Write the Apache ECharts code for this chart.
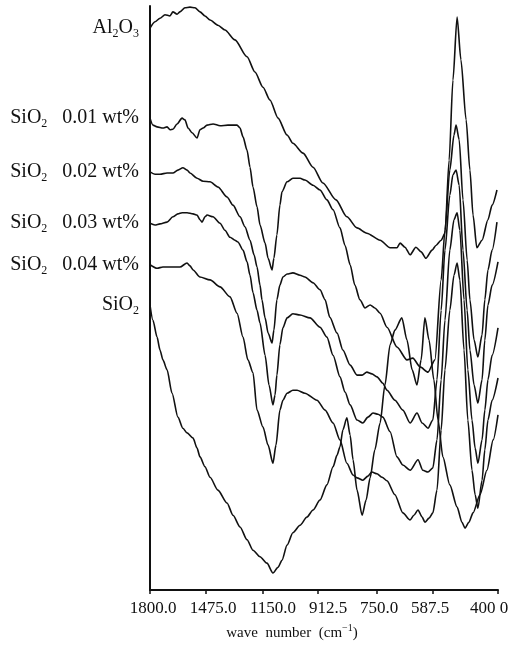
<!DOCTYPE html>
<html>
<head>
<meta charset="utf-8">
<title>IR spectra</title>
<script src="https://cdn.jsdelivr.net/npm/echarts@6/dist/echarts.min.js"></script>
<style>
  html, body { margin: 0; padding: 0; background: #fff; }
  #chart { width: 526px; height: 654px; }
</style>
</head>
<body>
<div id="chart"></div>
<script>
// wave number axis, as printed (recorder paper is not linear in cm-1)
const tickLabels = ['1800.0', '1475.0', '1150.0', '912.5', '750.0', '587.5', '400 0']
const tickWave = [1800, 1475, 1150, 912.5, 750, 587.5, 400]

// spectra: [wave number (cm-1), transmittance (a.u.)]
const al2o3 = [
  [1800, 96.2], [1771, 97.3], [1742, 97.9], [1713, 98.5], [1684, 98.3], [1667, 99.0], [1643, 98.6],
  [1626, 99.0], [1597, 99.7], [1568, 99.8], [1539, 99.7], [1510, 99.0], [1481, 98.3], [1452, 97.6],
  [1407, 96.7], [1367, 95.9], [1310, 94.2], [1241, 91.3], [1196, 88.7], [1150, 86.1], [1120, 83.9],
  [1085, 80.8], [1046, 77.9], [1021, 76.5], [977, 74.8], [934, 72.4], [899, 69.7], [863, 66.8],
  [833, 63.9], [805, 62.0], [778, 61.1], [741, 59.9], [712, 58.6], [692, 58.6], [683, 59.4],
  [669, 58.7], [654, 57.4], [637, 58.7], [622, 57.9], [608, 56.8], [590, 58.2], [579, 59.0],
  [564, 59.9], [553, 61.1], [541, 73.6], [530, 87.3], [518, 98.1], [507, 90.8], [492, 80.5],
  [481, 71.9], [472, 64.2], [461, 58.6], [446, 59.9], [429, 63.4], [417, 65.9], [403, 68.5]
]
const sio2_001 = [
  [1800, 80.8], [1783, 79.6], [1759, 79.3], [1725, 79.1], [1701, 79.3], [1684, 78.8], [1667, 78.9],
  [1643, 79.8], [1614, 80.8], [1597, 80.5], [1579, 79.1], [1556, 78.3], [1527, 77.4], [1510, 78.8],
  [1492, 79.1], [1469, 79.6], [1435, 79.8], [1395, 79.5], [1350, 79.6], [1298, 79.6], [1281, 79.1],
  [1264, 77.6], [1241, 75.3], [1224, 72.4], [1207, 69.0], [1184, 65.6], [1167, 62.5], [1141, 59.4],
  [1128, 56.8], [1111, 54.8], [1103, 56.8], [1090, 60.8], [1077, 65.9], [1068, 68.2], [1046, 69.9],
  [1021, 70.5], [990, 70.5], [969, 70.2], [934, 69.3], [907, 68.5], [888, 66.8], [871, 65.1],
  [852, 62.0], [838, 59.0], [824, 55.7], [811, 52.2], [797, 49.7], [783, 48.3], [769, 48.8],
  [756, 48.3], [741, 47.4], [721, 45.0], [692, 41.6], [663, 39.4], [646, 39.7], [625, 38.2],
  [602, 37.3], [582, 39.4], [564, 53.1], [553, 61.6], [539, 71.9], [527, 77.9], [521, 79.6],
  [512, 77.1], [501, 66.8], [489, 56.5], [481, 49.7], [469, 42.8], [458, 39.9], [446, 43.7],
  [438, 49.7], [429, 54.8], [417, 58.2], [403, 63.0]
]
const sio2_002 = [
  [1800, 71.6], [1771, 71.2], [1742, 71.2], [1701, 71.4], [1667, 71.4], [1638, 71.9], [1609, 72.3],
  [1585, 71.9], [1568, 71.4], [1527, 70.5], [1492, 70.0], [1452, 69.9], [1407, 69.0], [1355, 67.3],
  [1321, 65.9], [1281, 63.9], [1253, 62.2], [1224, 59.9], [1201, 57.4], [1184, 55.3], [1167, 52.2],
  [1156, 49.7], [1141, 46.6], [1128, 44.0], [1111, 42.3], [1103, 44.5], [1090, 49.7], [1077, 52.2],
  [1064, 53.6], [1046, 54.1], [1021, 54.3], [990, 53.9], [969, 53.6], [934, 52.6], [907, 51.4],
  [893, 49.7], [880, 46.7], [860, 44.0], [844, 41.1], [824, 38.5], [805, 36.8], [791, 36.8],
  [778, 37.3], [764, 37.0], [750, 36.5], [733, 35.4], [721, 34.2], [698, 32.5], [675, 30.8],
  [654, 28.6], [634, 30.3], [619, 28.6], [602, 27.7], [588, 29.1], [576, 36.0], [564, 47.9],
  [553, 58.2], [539, 67.6], [530, 71.1], [521, 71.9], [512, 69.3], [501, 58.2], [489, 47.9],
  [481, 41.1], [469, 35.1], [458, 32.0], [446, 36.0], [438, 42.8], [429, 48.8], [417, 52.2],
  [400, 56.2]
]
const sio2_003 = [
  [1800, 62.8], [1771, 62.5], [1742, 62.7], [1701, 63.0], [1667, 63.9], [1638, 64.4], [1614, 64.6],
  [1585, 64.6], [1550, 64.4], [1527, 64.2], [1510, 63.4], [1498, 63.0], [1481, 63.9], [1469, 64.2],
  [1435, 63.9], [1395, 62.8], [1367, 61.6], [1338, 60.4], [1310, 59.9], [1293, 59.6], [1264, 58.2],
  [1241, 56.2], [1224, 53.9], [1207, 50.9], [1184, 47.9], [1167, 45.7], [1141, 40.2], [1124, 35.1],
  [1107, 31.7], [1098, 33.4], [1090, 36.8], [1077, 42.0], [1064, 44.9], [1046, 46.6], [1021, 47.3],
  [990, 47.1], [947, 46.6], [907, 45.0], [888, 43.3], [871, 40.2], [852, 36.5], [838, 33.9],
  [824, 31.7], [805, 29.1], [789, 28.6], [775, 29.6], [761, 30.3], [747, 30.1], [733, 29.6],
  [712, 27.1], [692, 22.8], [675, 21.4], [654, 20.5], [631, 22.3], [617, 20.5], [602, 20.2],
  [588, 20.9], [576, 25.7], [564, 36.0], [553, 46.2], [539, 58.2], [527, 63.4], [518, 64.6],
  [510, 61.6], [498, 49.7], [487, 37.7], [475, 29.1], [466, 24.3], [458, 21.7], [446, 25.7],
  [438, 30.8], [429, 36.0], [417, 40.2], [400, 44.9]
]
const sio2_004 = [
  [1800, 55.7], [1759, 55.1], [1725, 55.3], [1684, 55.3], [1626, 55.3], [1585, 56.0], [1568, 55.5],
  [1550, 54.8], [1510, 53.6], [1452, 53.1], [1395, 51.9], [1338, 50.2], [1298, 47.4], [1264, 43.3],
  [1236, 39.4], [1207, 37.2], [1184, 30.8], [1150, 27.9], [1128, 24.8], [1107, 21.7], [1094, 24.8],
  [1077, 30.8], [1064, 32.5], [1046, 33.7], [1021, 34.2], [1003, 34.2], [969, 33.7], [917, 32.5],
  [893, 30.8], [871, 28.6], [852, 25.7], [833, 21.7], [816, 19.7], [805, 19.2], [789, 18.8],
  [775, 19.5], [764, 20.2], [750, 19.9], [735, 19.3], [721, 18.7], [698, 16.3], [675, 13.2],
  [654, 12.0], [643, 12.8], [631, 13.7], [619, 12.5], [611, 11.6], [599, 12.3], [588, 13.2],
  [576, 17.1], [564, 27.4], [553, 37.7], [539, 47.9], [527, 53.9], [518, 56.0], [510, 53.1],
  [498, 41.1], [487, 29.1], [475, 20.5], [466, 16.3], [458, 14.0], [446, 18.8], [438, 24.0],
  [429, 29.1], [417, 32.5], [400, 36.3]
]
const sio2 = [
  [1800, 48.8], [1783, 46.2], [1759, 43.3], [1742, 41.1], [1725, 39.4], [1701, 37.7], [1672, 33.7],
  [1638, 29.6], [1609, 27.7], [1585, 26.9], [1550, 26.0], [1527, 24.3], [1510, 22.8], [1481, 21.1],
  [1452, 19.3], [1407, 17.1], [1355, 14.9], [1321, 12.8], [1281, 10.8], [1241, 8.6], [1207, 6.8],
  [1167, 5.7], [1133, 4.6], [1107, 2.9], [1085, 3.9], [1068, 5.1], [1046, 7.7], [1021, 9.8],
  [990, 11.1], [960, 12.5], [934, 13.7], [907, 15.4], [888, 18.0], [871, 21.1], [860, 23.1],
  [852, 24.5], [844, 27.4], [833, 29.5], [824, 26.5], [816, 22.3], [805, 17.1], [791, 12.8],
  [780, 15.4], [769, 19.2], [756, 24.0], [741, 28.6], [727, 35.1], [712, 42.0], [698, 44.5],
  [678, 46.6], [663, 42.8], [648, 37.7], [634, 35.1], [622, 39.4], [611, 46.6], [599, 42.8],
  [585, 36.0], [573, 29.1], [559, 22.8], [539, 18.0], [518, 14.2], [504, 11.6], [495, 10.6],
  [484, 11.6], [472, 13.2], [452, 16.3], [432, 20.5], [414, 25.7], [400, 30.0]
]

// where each printed tick sits along the paper (axis units, 0 = 1800.0)
const paperPos = [0, 56, 113, 168, 227, 283, 348]
// the numbers under the axis were typeset as one line, so they drift off the ticks a little
const labelPos = [3, 63, 123, 178, 229, 280, 339]

function toPaper(w) {
  for (let i = 0; i < tickWave.length - 1; i++) {
    const a = tickWave[i]
    const b = tickWave[i + 1]
    if (w <= a && w >= b) {
      return paperPos[i] + (a - w) / (a - b) * (paperPos[i + 1] - paperPos[i])
    }
  }
  return w > tickWave[0] ? paperPos[0] : paperPos[paperPos.length - 1]
}

const ink = '#111'
const serif = "'Liberation Serif', 'DejaVu Serif', serif"

const rich = {
  t: { fontFamily: serif, fontSize: 20, color: ink, lineHeight: 24 },
  s: { fontFamily: serif, fontSize: 12, color: ink, lineHeight: 12, verticalAlign: 'bottom' }
}

const curves = [
  { name: 'Al2O3', data: al2o3, label: '{t|Al}{s|2}{t|O}{s|3}' },
  { name: 'SiO2 0.01 wt%', data: sio2_001, label: '{t|SiO}{s|2}{t|   0.01 wt%}' },
  { name: 'SiO2 0.02 wt%', data: sio2_002, label: '{t|SiO}{s|2}{t|   0.02 wt%}' },
  { name: 'SiO2 0.03 wt%', data: sio2_003, label: '{t|SiO}{s|2}{t|   0.03 wt%}' },
  { name: 'SiO2 0.04 wt%', data: sio2_004, label: '{t|SiO}{s|2}{t|   0.04 wt%}' },
  { name: 'SiO2', data: sio2, label: '{t|SiO}{s|2}' }
]

const chart = echarts.init(document.getElementById('chart'))

function nearest(list, v) {
  let best = 0
  list.forEach((p, i) => {
    if (Math.abs(p - v) < Math.abs(list[best] - v)) best = i
  })
  return best
}

const option = {
  animation: false,
  backgroundColor: '#fff',
  grid: { left: 150, right: 28, top: 6, bottom: 64 },
  xAxis: {
    type: 'value',
    min: 0,
    max: 348,
    name: '{t|wave  number  (cm}{p|\u22121}{t|)}',
    nameLocation: 'middle',
    nameGap: 33,
    nameTextStyle: {
      padding: [0, 64, 0, 0],
      rich: {
        t: { fontFamily: serif, fontSize: 15, color: ink, lineHeight: 20 },
        p: { fontFamily: serif, fontSize: 10, color: ink, lineHeight: 10, verticalAlign: 'top' }
      }
    },
    axisLine: { lineStyle: { color: ink, width: 2 } },
    axisTick: { customValues: paperPos, length: 4, lineStyle: { color: ink, width: 1.5 } },
    axisLabel: {
      customValues: labelPos,
      margin: 10,
      fontFamily: serif,
      fontSize: 17,
      color: ink,
      formatter: v => tickLabels[nearest(labelPos, v)]
    },
    splitLine: { show: false }
  },
  yAxis: {
    type: 'value',
    min: 0,
    max: 100,
    axisLine: { show: true, lineStyle: { color: ink, width: 2 } },
    axisTick: { show: false },
    axisLabel: { show: false },
    splitLine: { show: false }
  },
  series: curves.map(c => ({
    name: c.name,
    type: 'line',
    data: c.data.map(d => [toPaper(d[0]), d[1]]),
    showSymbol: false,
    smooth: 0.25,
    smoothMonotone: 'x',
    lineStyle: { color: ink, width: 1.6 },
    markPoint: {
      silent: true,
      symbol: 'circle',
      symbolSize: 0,
      data: [{ coord: [toPaper(c.data[0][0]), c.data[0][1]] }],
      label: { show: true, position: 'left', distance: 11, formatter: c.label, rich }
    }
  }))
}

chart.setOption(option)
</script>
</body>
</html>
